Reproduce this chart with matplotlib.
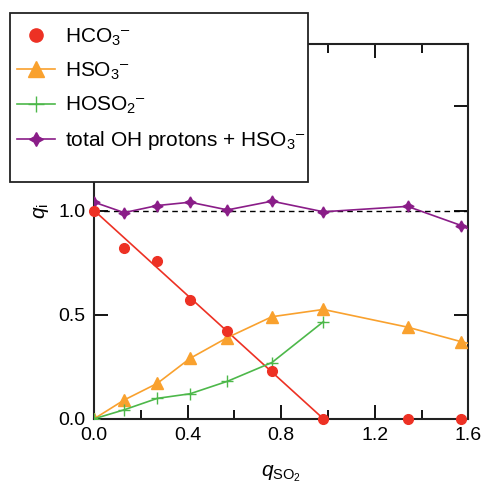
import numpy as np
import matplotlib
matplotlib.use("Agg")
import matplotlib.pyplot as plt
from matplotlib.lines import Line2D
from matplotlib.patches import Rectangle

plt.rcParams['font.family'] = ['Liberation Sans', 'DejaVu Sans']
plt.rcParams['mathtext.fontset'] = 'custom'
plt.rcParams['mathtext.rm'] = 'Liberation Sans'
plt.rcParams['mathtext.it'] = 'Liberation Sans:italic'

# datos
q_so2 = [0.0, 0.128, 0.27, 0.41, 0.57, 0.76, 0.98, 1.34, 1.57]
hco3 = [1.0, 0.82, 0.76, 0.57, 0.42, 0.23, 0.0, 0.0, 0.0]
hco3_fit_x = [0.0, 0.98]
hco3_fit_y = [1.0, 0.0]
hso3_x = [0.0, 0.128, 0.27, 0.41, 0.57, 0.76, 0.98, 1.34, 1.57, 1.8]
hso3 = [0.0, 0.09, 0.17, 0.29, 0.39, 0.49, 0.525, 0.44, 0.37, 0.31]
hoso2_x = [0.0, 0.128, 0.27, 0.41, 0.57, 0.76, 0.98]
hoso2 = [0.0, 0.043, 0.098, 0.12, 0.18, 0.27, 0.466]
total_x = [0.0, 0.128, 0.27, 0.41, 0.57, 0.76, 0.98, 1.34, 1.57, 1.8]
total = [1.04, 0.99, 1.024, 1.04, 1.003, 1.045, 0.994, 1.02, 0.928, 0.80]

c_red = '#ED3124'
c_orange = '#F9A12E'
c_green = '#4DB84A'
c_purple = '#8A1D88'

fig = plt.figure(figsize=(4.83, 4.83), dpi=100)
ax = fig.add_axes([0.195, 0.133, 0.7746, 0.776])

ax.plot([0, 1.6], [1.0, 1.0], 'k--', lw=1.0, dashes=(4, 3), zorder=1)
ax.plot(hco3_fit_x, hco3_fit_y, color=c_red, lw=1.2, zorder=2)
ax.plot(q_so2, hco3, 'o', color=c_red, ms=7, ls='none', clip_on=False, zorder=5)
ax.plot(hso3_x, hso3, '-^', color=c_orange, ms=8, lw=1.2, zorder=3)
ax.plot(hoso2_x, hoso2, '-+', color=c_green, ms=9, mew=1.0, lw=1.2, zorder=4)
ax.plot(total_x, total, '-', color=c_purple, marker=(4, 1, 0), ms=8, lw=1.2, zorder=4)

ax.set_xlim(0, 1.6)
ax.set_ylim(0, 1.8)
ax.set_xticks([0, 0.4, 0.8, 1.2, 1.6])
ax.set_xticks([0.2, 0.6, 1.0, 1.4], minor=True)
ax.set_xticklabels(['0.0', '0.4', '0.8', '1.2', '1.6'])
ax.set_yticks([0, 0.5, 1.0, 1.5])
ax.set_yticklabels(['0.0', '0.5', '1.0', '1.5'])
ax.tick_params(which='both', direction='in', top=True, right=True, width=1.3, labelsize=14, pad=6)
ax.tick_params(which='major', length=10)
ax.tick_params(which='minor', length=6.5)
for s in ax.spines.values():
    s.set_linewidth(1.5)
    s.set_color('#222222')

ax.set_xlabel(r'$q_{\mathrm{SO_2}}$', fontsize=15)
ax.xaxis.set_label_coords(0.5, -0.118)
ax.set_ylabel(r'$q_{\mathrm{i}}$', fontsize=15)
ax.yaxis.set_label_coords(-0.115, 0.555)

# marco de la leyenda (dibujado a mano para dejar el hueco de abajo)
frame = Rectangle((0.0207, 0.623), 0.617, 0.35, transform=fig.transFigure,
                  facecolor='white', edgecolor='#222222', lw=1.3, zorder=5)
fig.add_artist(frame)

handles = [
    Line2D([], [], color=c_red, marker='o', ls='none', ms=9.5),
    Line2D([], [], color=c_orange, marker='^', ms=11, lw=1.2),
    Line2D([], [], color=c_green, marker='+', ms=12, mew=1.0, lw=1.2),
    Line2D([], [], color=c_purple, marker=(4, 1, 0), ms=10, lw=1.2),
]
sup = '$^{\u2013}$'
labels = [r'HCO$_3$' + sup, r'HSO$_3$' + sup, r'HOSO$_2$' + sup,
          r'total OH protons + HSO$_3$' + sup]
leg = fig.legend(handles, labels, loc='upper left', bbox_to_anchor=(0.035, 0.945),
                 fontsize=15, frameon=False, handlelength=1.85, handletextpad=0.45,
                 labelspacing=0.62, borderpad=0, borderaxespad=0)
leg.set_zorder(10)

plt.savefig('out.png', dpi=100)
